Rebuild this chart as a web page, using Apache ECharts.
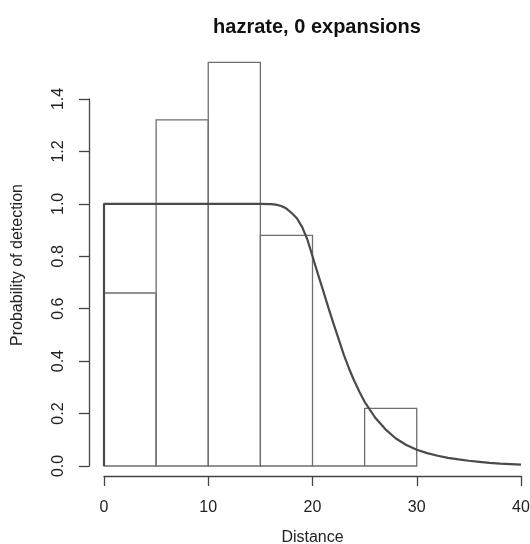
<!DOCTYPE html>
<html>
<head>
<meta charset="utf-8">
<script src="https://cdn.jsdelivr.net/npm/echarts@6/dist/echarts.min.js"></script>
<style>
html,body{margin:0;padding:0;background:#fff;}
#chart{width:530px;height:544px;}
</style>
</head>
<body>
<div id="chart"></div>
<script>
// Histogram bins (distance) and heights
const binStart = [0, 5, 10, 15, 20, 25];
const binEnd   = [5, 10, 15, 20, 25, 30];
const binHeight = [0.66, 1.32, 1.54, 0.88, 0, 0.22];

// Fitted detection function
const curveX = [0, 0, 5, 10, 15, 16, 16.5, 17, 17.5, 18, 18.5, 19, 19.5, 20, 20.5, 21, 21.5, 22, 22.5, 23, 23.5, 24, 24.5, 25, 26, 27, 28, 29, 30, 31, 32, 33, 34, 35, 36, 37, 38, 39, 40];
const curveY = [0, 1.0, 1.0, 1.0, 1.0, 0.999, 0.997, 0.992, 0.982, 0.965, 0.945, 0.912, 0.865, 0.80, 0.735, 0.672, 0.607, 0.545, 0.485, 0.425, 0.372, 0.325, 0.283, 0.245, 0.185, 0.14, 0.105, 0.08, 0.062, 0.049, 0.039, 0.031, 0.025, 0.02, 0.016, 0.012, 0.009, 0.007, 0.005];

const xTicks = [0, 10, 20, 30, 40];
const yTicks = [0, 0.2, 0.4, 0.6, 0.8, 1.0, 1.2, 1.4];

const titleText = 'hazrate, 0 expansions';
const xName = 'Distance';
const yName = 'Probability of detection';

const FONT = "'Liberation Sans', Arial, Helvetica, sans-serif";
const chart = echarts.init(document.getElementById('chart'), null, {renderer: 'canvas'});

const histData = binStart.map((s, i) => [s, binEnd[i], binHeight[i]]);
const curveData = curveX.map((x, i) => [x, curveY[i]]);

chart.setOption({
  animation: false,
  backgroundColor: '#ffffff',
  title: {
    text: titleText,
    left: 312,
    top: 12,
    textAlign: 'center',
    textStyle: {fontFamily: FONT, fontWeight: 'bold', fontSize: 20, color: '#111'}
  },
  grid: {left: 104, right: 9, top: 99, bottom: 78, containLabel: false, outerBoundsMode: 'none'},
  xAxis: {
    type: 'value',
    min: xTicks[0],
    max: xTicks[xTicks.length - 1],
    interval: 10,
    offset: 10,
    name: xName,
    nameLocation: 'middle',
    nameGap: 54,
    nameTextStyle: {fontFamily: FONT, fontSize: 16, color: '#222'},
    axisLine: {show: true, onZero: false, lineStyle: {color: '#444', width: 1.3}},
    axisTick: {show: true, length: 10, lineStyle: {color: '#444', width: 1.3}},
    axisLabel: {margin: 24, fontFamily: FONT, fontSize: 16, color: '#222',
      formatter: v => String(v)},
    splitLine: {show: false}
  },
  yAxis: {
    type: 'value',
    min: yTicks[0],
    max: yTicks[yTicks.length - 1],
    interval: 0.2,
    offset: 15,
    axisLine: {show: true, onZero: false, lineStyle: {color: '#444', width: 1.3}},
    axisTick: {show: true, length: 10, lineStyle: {color: '#444', width: 1.3}},
    axisLabel: {rotate: 90, margin: 22, fontFamily: FONT, fontSize: 16, color: '#222',
      formatter: v => v.toFixed(1)},
    splitLine: {show: false}
  },
  graphic: [{
    type: 'text',
    x: 18, y: 265,
    rotation: Math.PI / 2,
    style: {text: yName, fontFamily: FONT, fontSize: 16, fill: '#222',
      textAlign: 'center', textVerticalAlign: 'middle'}
  }],
  series: [{
    type: 'custom',
    clip: false,
    data: histData,
    renderItem: function (params, api) {
      const x0 = api.value(0), x1 = api.value(1), h = api.value(2);
      const pTop = api.coord([x0, h]);
      const pBot = api.coord([x1, 0]);
      return {
        type: 'rect',
        shape: {x: pTop[0], y: pTop[1], width: pBot[0] - pTop[0], height: pBot[1] - pTop[1]},
        style: {fill: 'none', stroke: '#6e6e6e', lineWidth: 1.3}
      };
    },
    z: 2
  }, {
    type: 'line',
    data: curveData,
    showSymbol: false,
    clip: false,
    lineStyle: {color: '#4a4a4a', width: 2.2},
    z: 3
  }]
});
</script>
</body>
</html>
